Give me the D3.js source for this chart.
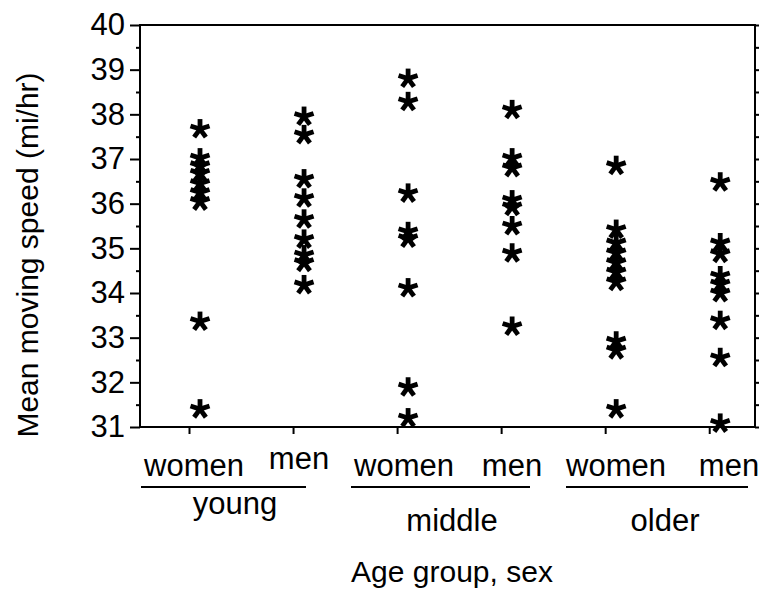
<!DOCTYPE html>
<html>
<head>
<meta charset="utf-8">
<script src="https://cdn.jsdelivr.net/npm/d3@7"></script>
<style>
  html, body { margin: 0; padding: 0; background: #fff; }
  svg { display: block; font-family: "Liberation Sans", Arial, Helvetica, sans-serif; }
</style>
</head>
<body>
<svg id="chart" width="766" height="589"></svg>
<script>
// Mean moving speed (mi/hr) of individual drivers, by age group and sex
const youngWomen  = [37.67, 37.02, 36.85, 36.68, 36.45, 36.25, 36.05, 33.36, 31.40];
const youngMen    = [37.95, 37.54, 36.55, 36.12, 35.65, 35.20, 34.85, 34.68, 34.18];
const middleWomen = [38.80, 38.28, 36.23, 35.37, 35.22, 34.11, 31.89, 31.20];
const middleMen   = [38.10, 37.02, 36.80, 36.08, 35.93, 35.50, 34.89, 33.25];
const olderWomen  = [36.85, 35.42, 35.12, 34.90, 34.68, 34.47, 34.25, 32.92, 32.72, 31.40];
const olderMen    = [36.48, 35.12, 34.88, 34.38, 34.20, 34.00, 33.38, 32.55, 31.08];

const sexLabels = ["women", "men", "women", "men", "women", "men"];
const ageGroups = ["young", "middle", "older"];
const yTickValues = [31, 32, 33, 34, 35, 36, 37, 38, 39, 40];
const yMinorValues = [31.5, 32.5, 33.5, 34.5, 35.5, 36.5, 37.5, 38.5, 39.5];

const columns = [youngWomen, youngMen, middleWomen, middleMen, olderWomen, olderMen];

const svg = d3.select("#chart");
const plotLeft = 140, plotRight = 755, plotTop = 25, plotBottom = 427;

const x = d3.scaleLinear().domain([0.529, 6.44]).range([plotLeft, plotRight]);
const y = d3.scaleLinear().domain([31, 40]).range([plotBottom, plotTop]);

const tickFont = 31, labelFont = 31, titleFont = 30;

// frame
svg.append("rect")
  .attr("x", plotLeft).attr("y", plotTop)
  .attr("width", plotRight - plotLeft).attr("height", plotBottom - plotTop)
  .attr("fill", "none").attr("stroke", "#000").attr("stroke-width", 2);

// left axis: labelled major ticks + short minor ticks
const yAxis = svg.append("g").attr("transform", `translate(${plotLeft},0)`)
  .call(d3.axisLeft(y).tickValues(yTickValues).tickSize(10).tickPadding(5).tickFormat(d3.format("d")));
yAxis.select(".domain").remove();
yAxis.selectAll("line").attr("stroke-width", 2);
yAxis.selectAll("text").attr("font-size", tickFont).attr("fill", "#000")
  .attr("font-family", "Liberation Sans, Arial, sans-serif");

const yMinor = svg.append("g").attr("transform", `translate(${plotLeft},0)`)
  .call(d3.axisLeft(y).tickValues(yMinorValues).tickSize(4).tickFormat(""));
yMinor.select(".domain").remove();
yMinor.selectAll("line").attr("stroke-width", 2);

// right axis: short outward ticks every half unit
const yRight = svg.append("g").attr("transform", `translate(${plotRight},0)`)
  .call(d3.axisRight(y).tickValues(yTickValues.concat(yMinorValues)).tickSize(4).tickFormat(""));
yRight.select(".domain").remove();
yRight.selectAll("line").attr("stroke-width", 2);

// bottom axis ticks at each column
const xAxis = svg.append("g").attr("transform", `translate(0,${plotBottom})`)
  .call(d3.axisBottom(x).tickValues(d3.range(1, 7)).tickSize(7).tickFormat(""));
xAxis.select(".domain").remove();
xAxis.selectAll("line").attr("stroke-width", 2);

// sex labels under each column
const sexY = [476, 469, 476, 476, 476, 476];
const sexX = [194, 299, 404, 512, 616, 729];
svg.append("g").selectAll("text").data(sexLabels).join("text")
  .attr("x", (d, i) => sexX[i])
  .attr("y", (d, i) => sexY[i])
  .attr("text-anchor", "middle")
  .attr("font-size", labelFont)
  .text(d => d);

// underline bars spanning each age group
const barSpans = [[141, 306], [351, 530], [566, 748]];
svg.append("g").selectAll("line").data(barSpans).join("line")
  .attr("x1", d => d[0]).attr("x2", d => d[1])
  .attr("y1", 487).attr("y2", 487)
  .attr("stroke", "#000").attr("stroke-width", 2);

// age group labels
const groupX = [235, 452, 665];
const groupY = [514, 531, 531];
svg.append("g").selectAll("text").data(ageGroups).join("text")
  .attr("x", (d, i) => groupX[i]).attr("y", (d, i) => groupY[i])
  .attr("text-anchor", "middle")
  .attr("font-size", labelFont)
  .text(d => d);

// axis titles
svg.append("text")
  .attr("x", 452).attr("y", 582)
  .attr("text-anchor", "middle")
  .attr("font-size", titleFont)
  .text("Age group, sex");

svg.append("text")
  .attr("transform", "translate(38,255) rotate(-90)")
  .attr("text-anchor", "middle")
  .attr("font-size", titleFont)
  .text("Mean moving speed (mi/hr)");

// five-armed asterisk marker
const armAngles = [90, 18, -54, -126, 162].map(a => a * Math.PI / 180);
const armLen = 10;
const starOffset = 11;

const points = columns.flatMap((vals, i) => vals.map(v => ({col: i + 1, v})));

const stars = svg.append("g").selectAll("g").data(points).join("g")
  .attr("transform", d => `translate(${x(d.col) + starOffset},${y(d.v)})`);

stars.selectAll("line").data(armAngles).join("line")
  .attr("x1", 0).attr("y1", 0)
  .attr("x2", a => armLen * Math.cos(a))
  .attr("y2", a => -armLen * Math.sin(a))
  .attr("stroke", "#000")
  .attr("stroke-width", 4.8);
</script>
</body>
</html>
